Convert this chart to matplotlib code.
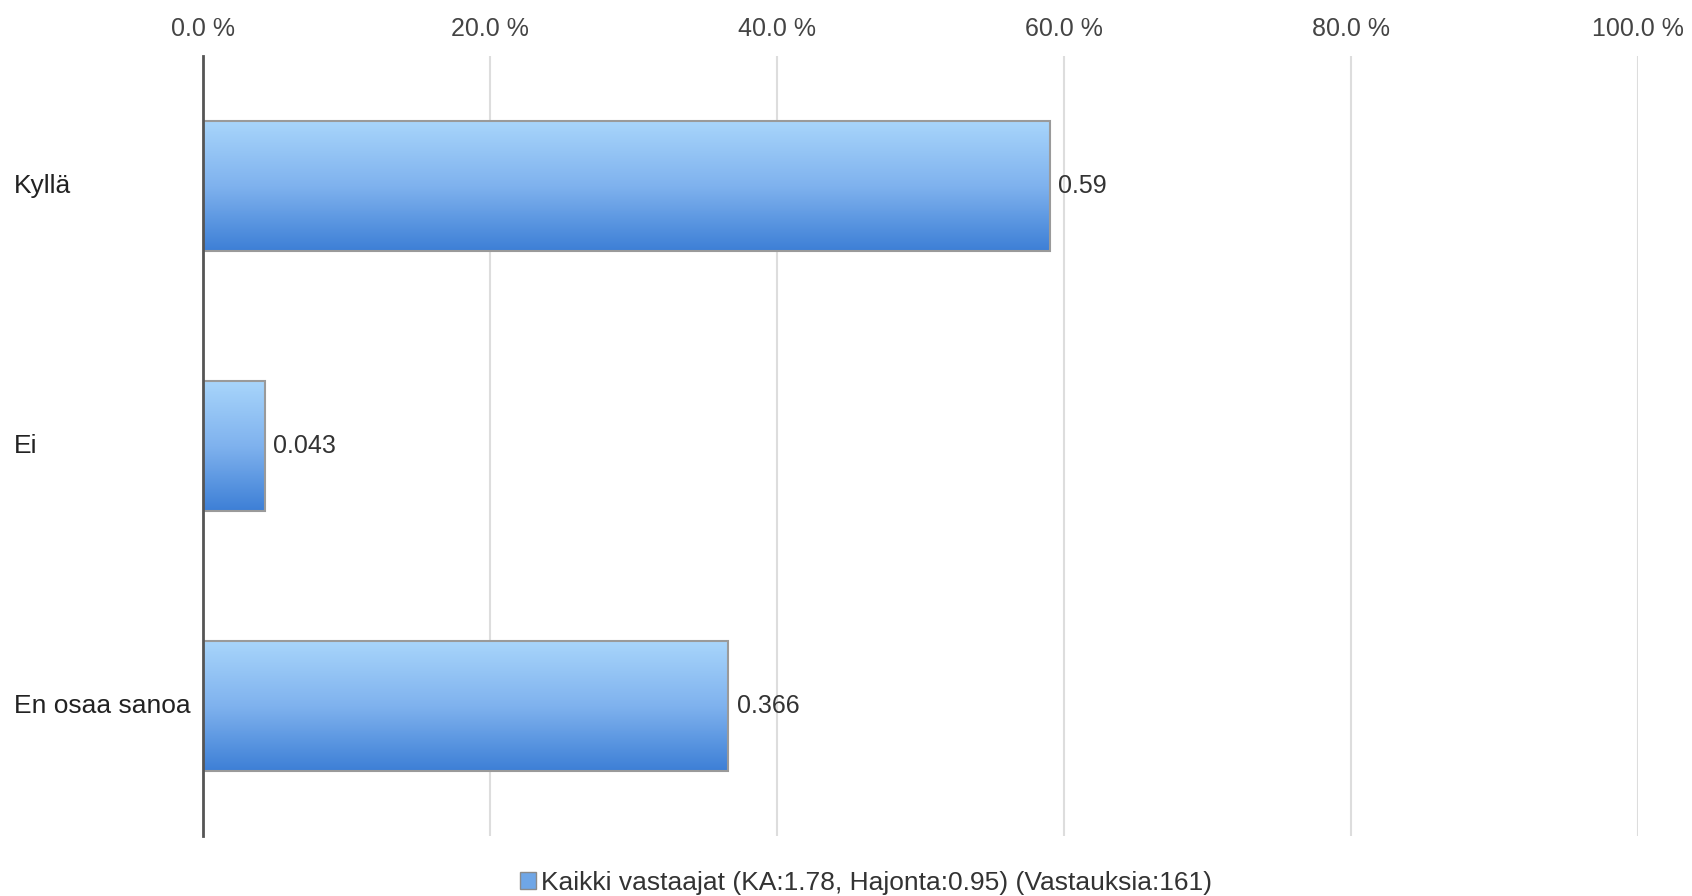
import numpy as np
import matplotlib.pyplot as plt
from matplotlib.colors import LinearSegmentedColormap
from matplotlib.patches import Patch

# Survey answers (share of respondents)
categories = ["Kyllä", "Ei", "En osaa sanoa"]
values = [0.59, 0.043, 0.366]
value_labels = ["0.59", "0.043", "0.366"]
xticks = [0.0, 0.2, 0.4, 0.6, 0.8, 1.0]
xtick_labels = ["0.0 %", "20.0 %", "40.0 %", "60.0 %", "80.0 %", "100.0 %"]
legend_label = "Kaikki vastaajat (KA:1.78, Hajonta:0.95) (Vastauksia:161)"

plt.rcParams['font.family'] = ['Liberation Sans', 'DejaVu Sans']
fs = 18

fig = plt.figure(figsize=(16.92, 8.96), dpi=100)
ax = fig.add_axes([0.12, 0.067, 0.848, 0.8705])

bar_h = 0.5
grad = LinearSegmentedColormap.from_list("bar", ["#a8d5fb", "#7fb2ee", "#3d7fd6"])
g = np.linspace(0, 1, 256).reshape(-1, 1)

y = np.arange(len(categories))
bars = ax.barh(y, values, height=bar_h, color="none", edgecolor="#9a9a9a",
               linewidth=1.5, zorder=3)
for b, v in zip(bars, values):
    yc = b.get_y() + b.get_height() / 2
    im = ax.imshow(g, cmap=grad, aspect='auto', origin='upper',
                   extent=[0, v, yc + bar_h / 2, yc - bar_h / 2], zorder=2)
    im.set_clip_path(b)

for yi, v, lab in zip(y, values, value_labels):
    ax.text(v + 0.006, yi, lab, va='center', ha='left', fontsize=fs, color="#333333")

ax.set_xlim(0, 1.0)
ax.set_ylim(len(categories) - 0.5, -0.5)

ax.xaxis.tick_top()
ax.set_xticks(xticks)
ax.set_xticklabels(xtick_labels, fontsize=fs, color="#444444")
ax.tick_params(axis='x', length=0, pad=11)
ax.set_yticks([])
for xv in xticks[1:]:
    ax.axvline(xv, color="#dddddd", linewidth=1.5, zorder=1)
for s in ["top", "right", "bottom"]:
    ax.spines[s].set_visible(False)
ax.spines["left"].set_color("#555555")
ax.spines["left"].set_linewidth(2)
ax.spines["left"].set_zorder(4)

# category names aligned to the left edge of the figure
for yi, cat in zip(y, categories):
    ax.text(-0.1317, yi, cat, transform=ax.get_yaxis_transform(),
            ha='left', va='center', fontsize=19, color="#222222")

handle = Patch(facecolor="#6fa6e6", edgecolor="#8a8a8a")
fig.legend([handle], [legend_label], loc='center', bbox_to_anchor=(0.512, 0.015),
           frameon=False, fontsize=19, handlelength=0.6, handleheight=0.6,
           handletextpad=0.2, labelcolor="#333333")

fig.savefig("out.png", dpi=100)
